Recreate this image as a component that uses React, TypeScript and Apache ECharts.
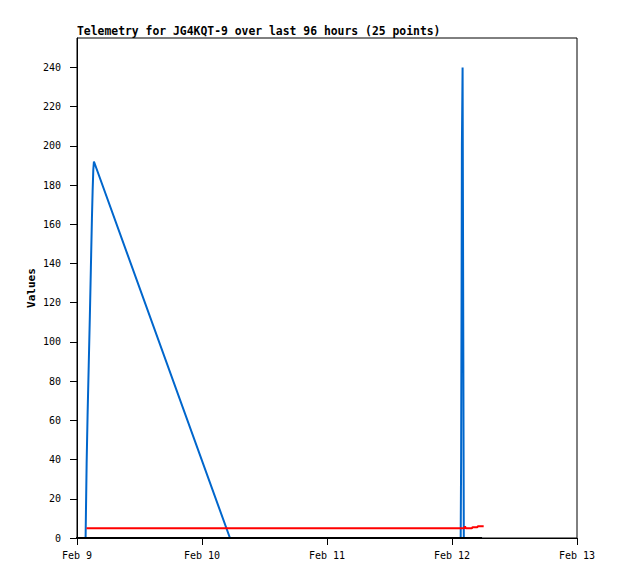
import React, { useEffect, useRef } from "react";
import * as echarts from "echarts";

// Timestamps (UTC, "YYYY-MM-DD HH:MM") and values per series
const blueTimes = [
  "2025-02-09 01:39", "2025-02-09 01:43", "2025-02-09 01:51", "2025-02-09 02:02",
  "2025-02-09 02:15", "2025-02-09 02:28", "2025-02-09 02:40", "2025-02-09 02:52",
  "2025-02-09 03:00", "2025-02-09 03:08", "2025-02-09 03:15", "2025-02-10 05:22",
  "2025-02-12 01:40", "2025-02-12 01:45", "2025-02-12 01:50", "2025-02-12 01:54",
  "2025-02-12 02:02", "2025-02-12 02:16", "2025-02-12 05:46",
];
const blueValues = [0, 13, 38, 63, 88, 113, 138, 163, 177, 188, 192, 0, 0, 40, 120, 200, 240, 0, 0];

const redTimes = [
  "2025-02-09 01:49", "2025-02-12 02:24", "2025-02-12 02:30", "2025-02-12 02:38",
  "2025-02-12 03:50", "2025-02-12 03:56", "2025-02-12 04:50", "2025-02-12 05:00",
  "2025-02-12 06:05",
];
const redValues = [5, 5, 6, 5, 5, 5.5, 5.5, 6, 6];

const blackTimes = ["2025-02-08 10:00", "2025-02-10 12:00", "2025-02-12 05:46"];
const blackValues = [0, 0, 0];

const xTickDays = ["2025-02-09", "2025-02-10", "2025-02-11", "2025-02-12", "2025-02-13"];
const yTickValues = [0, 20, 40, 60, 80, 100, 120, 140, 160, 180, 200, 220, 240];
const monthNames = ["Jan", "Feb", "Mar", "Apr", "May", "Jun", "Jul", "Aug", "Sep", "Oct", "Nov", "Dec"];

function toMs(s: string): number {
  const [d, t] = s.split(" ");
  const [y, m, dd] = d.split("-").map(Number);
  const [h, mi] = (t || "00:00").split(":").map(Number);
  return Date.UTC(y, m - 1, dd, h, mi);
}

function pairs(times: string[], values: number[]) {
  return times.map((t, i) => [toMs(t), values[i]]);
}

const DAY = 86400000;
const MONO = "'DejaVu Sans Mono', 'Liberation Mono', monospace";

export default function App() {
  const ref = useRef<HTMLDivElement>(null);
  useEffect(() => {
    document.body.style.margin = "0";
    if (!ref.current) return;
    const chart = echarts.init(ref.current, undefined, { renderer: "svg" });
    const xTicks = xTickDays.map((d) => toMs(d + " 00:00"));
    chart.setOption({
      animation: false,
      backgroundColor: "#ffffff",
      title: {
        text: "Telemetry for JG4KQT-9 over last 96 hours (25 points)",
        left: 77,
        top: 25,
        padding: 0,
        textStyle: { fontFamily: MONO, fontWeight: "bold", fontSize: 11.4, color: "#000" },
      },
      grid: {
        left: 77,
        right: 41,
        top: 38,
        bottom: 41,
        show: true,
        borderColor: "#000",
        borderWidth: 1,
        backgroundColor: "transparent",
      },
      xAxis: {
        type: "value",
        min: xTicks[0],
        max: xTicks[xTicks.length - 1],
        interval: DAY,
        axisLine: { show: true, onZero: false, lineStyle: { color: "#000", width: 1 } },
        axisTick: { show: true, inside: false, length: 7, lineStyle: { color: "#000" } },
        splitLine: { show: false },
        axisLabel: {
          margin: 12,
          color: "#000",
          fontFamily: MONO,
          fontSize: 10,
          formatter: (v: number) => {
            const d = new Date(v);
            return monthNames[d.getUTCMonth()] + " " + d.getUTCDate();
          },
        },
      },
      yAxis: {
        type: "value",
        min: 0,
        max: 255,
        interval: 20,
        name: "Values",
        nameLocation: "middle",
        nameGap: 40,
        nameMoveOverlap: false,
        nameTextStyle: { fontFamily: MONO, fontWeight: "bold", fontSize: 11, color: "#000" },
        axisLine: { show: true, lineStyle: { color: "#000", width: 1 } },
        axisTick: { show: true, inside: false, length: 7, customValues: yTickValues, lineStyle: { color: "#000" } },
        splitLine: { show: false },
        axisLabel: {
          margin: 16,
          color: "#000",
          fontFamily: MONO,
          fontSize: 10,
          customValues: yTickValues,
        },
      },
      series: [
        {
          type: "line",
          data: pairs(blueTimes, blueValues),
          showSymbol: false,
          symbol: "none",
          lineStyle: { color: "#0066cc", width: 2 },
          itemStyle: { color: "#0066cc" },
          silent: true,
          clip: true,
        },
        {
          type: "line",
          data: pairs(redTimes, redValues),
          showSymbol: false,
          symbol: "none",
          lineStyle: { color: "#ff0000", width: 2 },
          itemStyle: { color: "#ff0000" },
          silent: true,
          clip: true,
        },
        {
          type: "line",
          data: pairs(blackTimes, blackValues),
          showSymbol: false,
          symbol: "none",
          lineStyle: { color: "#000000", width: 2 },
          itemStyle: { color: "#000000" },
          silent: true,
          clip: true,
        },
      ],
    });
    return () => chart.dispose();
  }, []);
  return (
    <div
      ref={ref}
      style={{ position: "absolute", left: 0, top: 0, width: 618, height: 579 }}
    />
  );
}
